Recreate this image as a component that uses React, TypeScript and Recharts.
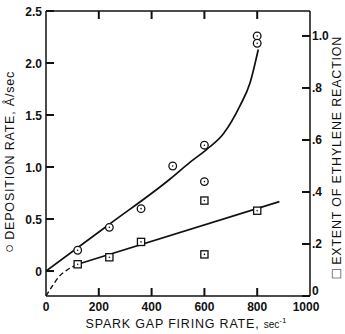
import { ComposedChart, Line, Scatter, XAxis, YAxis } from 'recharts';

const xTicks = [0, 200, 400, 600, 800, 1000];
const leftTicks = [0, 0.5, 1.0, 1.5, 2.0, 2.5];
const rightTicks = [0, 0.2, 0.4, 0.6, 0.8, 1.0];
const rightTickLabels = ['0', '.2', '.4', '.6', '.8', '1.0'];

// measured points (circles, left axis)
const depositionX = [120, 240, 360, 480, 600, 600, 800, 800];
const depositionRate = [0.2, 0.42, 0.6, 1.01, 1.21, 0.86, 2.26, 2.19];

// measured points (squares, right axis)
const extentX = [120, 240, 360, 600, 600, 800];
const extentValue = [0.122, 0.149, 0.208, 0.367, 0.16, 0.328];

// hand-drawn fit through the circles
const rateCurveX = [0, 240, 470, 545, 609, 672, 735, 773, 804];
const rateCurveY = [0, 0.45, 0.885, 1.045, 1.17, 1.32, 1.59, 1.81, 2.13];

// straight fit through the squares, plus the dashed start
const extentLineX = [120, 884];
const extentLineY = [0.122, 0.363];
const extentDashX = [0, 25, 50, 80, 120];
const extentDashY = [0, 0.04, 0.075, 0.1, 0.122];

const zip = (xs: number[], ys: number[]) => xs.map((x, i) => ({ x, y: ys[i] }));

const depositionData = zip(depositionX, depositionRate);
const extentData = zip(extentX, extentValue);
const rateCurve = zip(rateCurveX, rateCurveY);
const extentLine = zip(extentLineX, extentLineY);
const extentDash = zip(extentDashX, extentDashY);

const W = 345;
const H = 334;
const MARGIN_TOP = 9;
const TOP_AXIS_H = 2;
const BOTTOM_AXIS_H = 38;
const PLOT_H = H - MARGIN_TOP - TOP_AXIS_H - BOTTOM_AXIS_H;

const INK = '#111';
const FONT = '"Liberation Sans", Arial, sans-serif';
const TICK_LEN = 8;
const TICK_W = 2;
const axisStroke = { stroke: INK, strokeWidth: 1.5 };

const CircleMark = ({ cx, cy }: any) => (
  <g>
    <circle cx={cx} cy={cy} r={3.8} fill="#fff" stroke={INK} strokeWidth={1.3} />
    <circle cx={cx} cy={cy} r={0.8} fill={INK} />
  </g>
);

const SquareMark = ({ cx, cy }: any) => (
  <g>
    <rect x={cx - 3.6} y={cy - 3.6} width={7.2} height={7.2} fill="#fff" stroke={INK} strokeWidth={1.3} />
    <circle cx={cx} cy={cy} r={0.8} fill={INK} />
  </g>
);

const numStyle = { fontSize: 12, fontWeight: 'bold' as const, fontFamily: FONT, fill: INK };

// inward tick marks on the bottom and top frame, labels below
const BottomTick = ({ x, y, payload }: any) => {
  const v = payload.value;
  const dx = v === 1000 ? -4 : 0;
  const top = y - PLOT_H;
  const inner = v > 0 && v < 1000;
  return (
    <g>
      <line x1={x} x2={x} y1={y} y2={y - TICK_LEN} stroke={inner ? INK : 'none'} strokeWidth={TICK_W} />
      <line x1={x} x2={x} y1={top} y2={top + TICK_LEN} stroke={inner ? INK : 'none'} strokeWidth={TICK_W} />
      <text x={x + dx} y={y + 15} textAnchor="middle" {...numStyle}>
        {v}
      </text>
    </g>
  );
};

const LeftTick = ({ x, y, payload }: any) => {
  const v = payload.value;
  return (
    <g>
      <line x1={x} x2={x + TICK_LEN} y1={y} y2={y} stroke={INK} strokeWidth={TICK_W} />
      <text x={x - 4} y={y + 4.5} textAnchor="end" {...numStyle}>
        {v === 0 ? '0' : v.toFixed(1)}
      </text>
    </g>
  );
};

const RightTick = ({ x, y, payload, index }: any) => {
  const v = payload.value;
  const dy = v === 0 ? -6 : 0;
  return (
    <g>
      <line x1={x - TICK_LEN} x2={x} y1={y} y2={y} stroke={INK} strokeWidth={TICK_W} />
      <text x={x + 2} y={y + 4.5 + dy} textAnchor="start" {...numStyle}>
        {rightTickLabels[index]}
      </text>
    </g>
  );
};

const LeftLabel = () => (
  <text
    x={0}
    y={0}
    transform="translate(14,162) rotate(-90)"
    textAnchor="middle"
    fontSize={12.5}
    letterSpacing={0.8}
    fontFamily={FONT}
    fill={INK}
  >
    <tspan fontSize={15} letterSpacing={0}>○</tspan> DEPOSITION RATE, Å/sec
  </text>
);

const RightLabel = () => (
  <text
    x={0}
    y={0}
    transform="translate(341,157) rotate(-90)"
    textAnchor="middle"
    fontSize={12.5}
    letterSpacing={0.8}
    fontFamily={FONT}
    fill={INK}
  >
    <tspan fontSize={15} letterSpacing={0}>□</tspan> EXTENT OF ETHYLENE REACTION
  </text>
);

const BottomLabel = () => (
  <text x={186} y={328} textAnchor="middle" fontSize={12.5} letterSpacing={0.8} fontFamily={FONT} fill={INK}>
    SPARK GAP FIRING RATE,{' '}
    <tspan fontSize={10} letterSpacing={0}>sec</tspan>
    <tspan fontSize={8} dy={-5} letterSpacing={0}>-1</tspan>
  </text>
);

export default function App() {
  return (
    <div style={{ position: 'absolute', left: 0, top: 0, background: '#fff' }}>
      <ComposedChart width={W} height={H} margin={{ top: MARGIN_TOP, right: 0, bottom: 0, left: 0 }}>
        <XAxis
          dataKey="x"
          type="number"
          domain={[0, 1000]}
          allowDataOverflow
          ticks={xTicks}
          interval={0}
          height={BOTTOM_AXIS_H}
          axisLine={axisStroke}
          tickLine={false}
          tickSize={0}
          tickMargin={0}
          tick={<BottomTick />}
          label={<BottomLabel />}
        />
        <XAxis
          xAxisId="top"
          orientation="top"
          dataKey="x"
          type="number"
          domain={[0, 1000]}
          allowDataOverflow
          height={TOP_AXIS_H}
          axisLine={axisStroke}
          tickLine={false}
          tick={false}
        />
        <YAxis
          yAxisId="left"
          type="number"
          domain={[-0.24, 2.5]}
          allowDataOverflow
          ticks={leftTicks}
          interval={0}
          width={46}
          axisLine={axisStroke}
          tickLine={false}
          tickSize={0}
          tickMargin={0}
          tick={<LeftTick />}
          label={<LeftLabel />}
        />
        <YAxis
          yAxisId="right"
          orientation="right"
          type="number"
          domain={[0, 1.096]}
          allowDataOverflow
          ticks={rightTicks}
          interval={0}
          width={35}
          axisLine={axisStroke}
          tickLine={false}
          tickSize={0}
          tickMargin={0}
          tick={<RightTick />}
          label={<RightLabel />}
        />
        <Line
          yAxisId="left"
          data={rateCurve}
          dataKey="y"
          type="monotone"
          stroke={INK}
          strokeWidth={1.7}
          dot={false}
          activeDot={false}
          isAnimationActive={false}
        />
        <Line
          yAxisId="right"
          xAxisId="top"
          data={extentLine}
          dataKey="y"
          type="linear"
          stroke={INK}
          strokeWidth={1.7}
          dot={false}
          activeDot={false}
          isAnimationActive={false}
        />
        <Line
          yAxisId="right"
          data={extentDash}
          dataKey="y"
          type="monotone"
          stroke={INK}
          strokeWidth={1.4}
          strokeDasharray="5 3"
          dot={false}
          activeDot={false}
          isAnimationActive={false}
        />
        <Scatter
          yAxisId="left"
          data={depositionData}
          dataKey="y"
          shape={<CircleMark />}
          isAnimationActive={false}
        />
        <Scatter
          yAxisId="right"
          data={extentData}
          dataKey="y"
          shape={<SquareMark />}
          isAnimationActive={false}
        />
      </ComposedChart>
    </div>
  );
}
